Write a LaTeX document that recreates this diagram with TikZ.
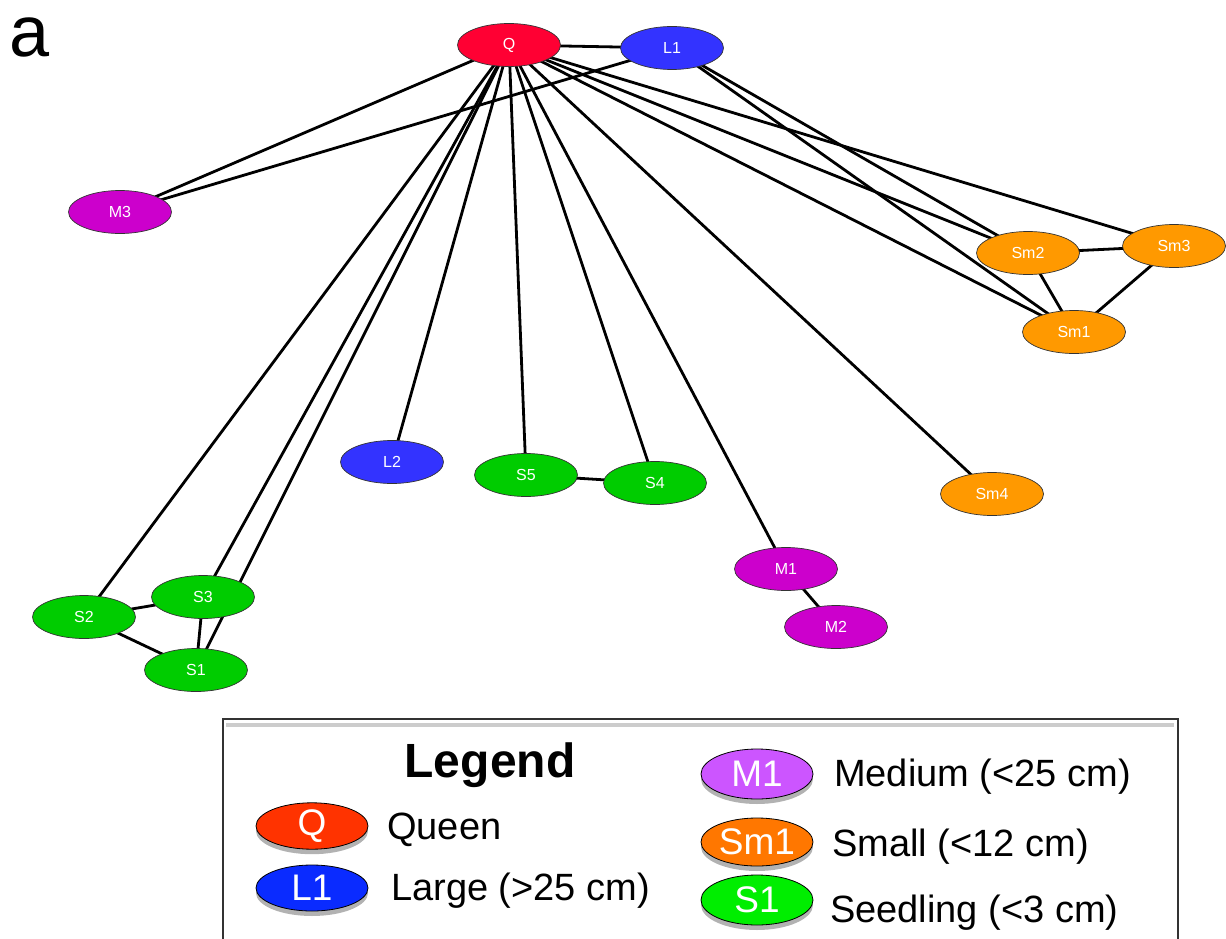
\documentclass[tikz,border=0pt]{standalone}
\usepackage{fontspec}
\setmainfont{Liberation Sans}
\usetikzlibrary{shapes.geometric,shadows,backgrounds}
\definecolor{qred}{HTML}{FF0033}
\definecolor{lblue}{HTML}{3333FF}
\definecolor{mpurp}{HTML}{CC00CC}
\definecolor{smor}{HTML}{FF9900}
\definecolor{sgreen}{HTML}{00CC00}
\definecolor{legQ}{HTML}{FF3300}
\definecolor{legL}{HTML}{0A2BFF}
\definecolor{legM}{HTML}{CC55FF}
\definecolor{legSm}{HTML}{FF7700}
\definecolor{legS}{HTML}{00EE00}
\tikzset{
  gnode/.style={ellipse, draw=black!80, line width=0.7pt, minimum width=103pt, minimum height=43pt,
    inner sep=0pt, outer sep=0pt, text=white, font=\fontsize{16}{18}\selectfont},
  edge/.style={line width=2.8pt, draw=black},
  lnode/.style={ellipse, draw=black, line width=0.8pt, minimum width=112pt, minimum height=46pt,
    inner sep=0pt, text=white, font=\fontsize{37}{40}\selectfont,
    drop shadow={shadow xshift=0pt, shadow yshift=-5pt, opacity=0.3, fill=black}},
  ltext/.style={anchor=west, font=\fontsize{38}{40}\selectfont, inner sep=0pt},
}
\begin{document}
\begin{tikzpicture}[x=1pt,y=-1pt]
\useasboundingbox (0,0) rectangle (1226,939);
\node[font=\fontsize{72}{72}\selectfont, inner sep=0pt] (lbla) at (30,37) {a};
% graph nodes
\node[gnode, fill=qred] (Q) at (509,45) {Q};
\node[gnode, fill=lblue] (L1) at (672,48) {L1};
\node[gnode, fill=mpurp] (M3) at (120,212) {M3};
\node[gnode, fill=smor] (Sm2) at (1028,253) {Sm2};
\node[gnode, fill=smor] (Sm3) at (1174,246) {Sm3};
\node[gnode, fill=smor] (Sm1) at (1074,332) {Sm1};
\node[gnode, fill=smor] (Sm4) at (992,494) {Sm4};
\node[gnode, fill=lblue] (L2) at (392,462) {L2};
\node[gnode, fill=sgreen] (S5) at (526,475) {S5};
\node[gnode, fill=sgreen] (S4) at (655,483) {S4};
\node[gnode, fill=mpurp] (M1) at (786,569) {M1};
\node[gnode, fill=mpurp] (M2) at (836,627) {M2};
\node[gnode, fill=sgreen] (S2) at (84,617) {S2};
\node[gnode, fill=sgreen] (S3) at (203,597) {S3};
\node[gnode, fill=sgreen] (S1) at (196,670) {S1};
\begin{pgfonlayer}{background}
\foreach \a/\b in {Q/L1, Q/M3, L1/M3, Q/S2, Q/S3, Q/S1, Q/L2, Q/S5, Q/S4, Q/M1, Q/Sm4,
  Q/Sm2, Q/Sm1, Q/Sm3, L1/Sm2, L1/Sm1, Sm2/Sm3, Sm2/Sm1, Sm3/Sm1, S5/S4, M1/M2,
  S2/S3, S2/S1, S3/S1}
  \draw[edge] (\a.center) -- (\b.center);
\end{pgfonlayer}
% legend
\draw[black!20, line width=4pt] (226,725) -- (1174,725);
\draw[black!80, line width=2pt] (223,945) -- (223,719) -- (1178,719) -- (1178,945);
\node[font=\fontsize{48}{50}\selectfont\bfseries, inner sep=0pt] (legtitle) at (490,765) {Legend};
\node[lnode, fill=legQ] (lq) at (312,826) {Q};
\node[ltext] (tq) at (387,830) {Queen};
\node[lnode, fill=legL] (ll) at (312,888) {L1};
\node[ltext] (tl) at (391,891) {Large (>25 cm)};
\node[lnode, fill=legM, minimum height=50pt] (lm) at (757,774) {M1};
\node[ltext] (tm) at (834,777) {Medium (<25 cm)};
\node[lnode, fill=legSm, minimum height=48pt] (lsm) at (757,842) {Sm1};
\node[ltext] (tsm) at (832,847) {Small (<12 cm)};
\node[lnode, fill=legS, minimum height=50pt] (ls) at (757,900) {S1};
\node[ltext] (ts) at (830,913) {Seedling (<3 cm)};
\end{tikzpicture}
\end{document}
